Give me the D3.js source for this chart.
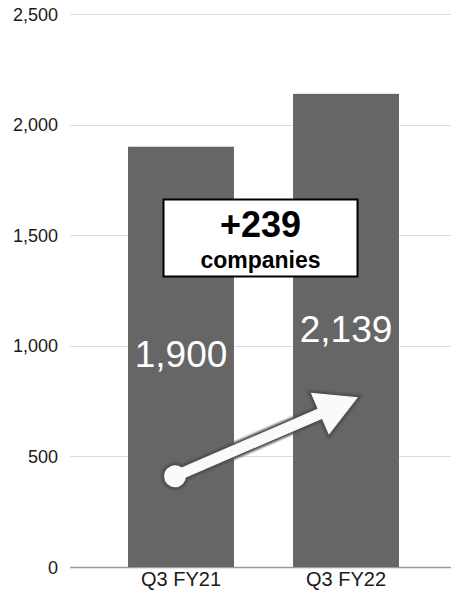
<!DOCTYPE html>
<html>
<head>
<meta charset="utf-8">
<script src="https://cdn.jsdelivr.net/npm/d3@7"></script>
<style>
  html, body { margin: 0; padding: 0; background: #fff; }
  svg { display: block; font-family: "Liberation Sans", Arial, sans-serif; }
</style>
</head>
<body>
<svg id="chart" width="451" height="598"></svg>
<script>
// Companies per quarter
const categories = ["Q3 FY21", "Q3 FY22"];
const values = [1900, 2139];
const yTicks = [0, 500, 1000, 1500, 2000, 2500];
const valueLabels = ["1,900", "2,139"];
const changeLabel = ["+239", "companies"];
// Arrow annotation runs from the first bar to the second (in axis units)
const arrowValues = [410, 765];

const svg = d3.select("#chart");

const gridLeft = 70, gridRight = 451;
const y = d3.scaleLinear().domain([0, 2500]).range([567, 14]);
const x = d3.scaleBand().domain(categories).range([98.5, 428.5])
  .paddingInner(0.358).paddingOuter(0.179);

// Gridlines
svg.append("g").selectAll("line").data(yTicks).join("line")
  .attr("x1", gridLeft).attr("x2", gridRight)
  .attr("y1", d => Math.round(y(d)) + 0.5).attr("y2", d => Math.round(y(d)) + 0.5)
  .attr("stroke", d => d === 0 ? "#9a9a9a" : "#dcdcdc")
  .attr("stroke-width", d => d === 0 ? 1.5 : 1);

// Y axis labels
const fmt = d3.format(",");
svg.append("g").selectAll("text").data(yTicks).join("text")
  .attr("x", 58).attr("y", d => y(d) + 6.5)
  .attr("text-anchor", "end")
  .attr("font-size", 18).attr("fill", "#1a1a1a")
  .text(d => fmt(d));

// Bars
svg.append("g").selectAll("rect").data(values).join("rect")
  .attr("x", (d, i) => x(categories[i]))
  .attr("width", x.bandwidth())
  .attr("y", d => y(d))
  .attr("height", d => y(0) - y(d))
  .attr("fill", "#666666");

// X labels
svg.append("g").selectAll("text").data(categories).join("text")
  .attr("x", d => x(d) + x.bandwidth() / 2).attr("y", 586)
  .attr("text-anchor", "middle")
  .attr("font-size", 20).attr("fill", "#1a1a1a")
  .text(d => d);

// Value labels inside bars
const labelDrop = [220, 248];
svg.append("g").selectAll("text").data(values).join("text")
  .attr("x", (d, i) => x(categories[i]) + x.bandwidth() / 2)
  .attr("y", (d, i) => y(d) + labelDrop[i])
  .attr("text-anchor", "middle")
  .attr("font-size", 37).attr("fill", "#fff")
  .text((d, i) => valueLabels[i]);

// Arrow
const defs = svg.append("defs");
const f = defs.append("filter").attr("id", "soft").attr("x", "-20%").attr("y", "-40%")
  .attr("width", "140%").attr("height", "180%");
f.append("feGaussianBlur").attr("stdDeviation", 0.8);

const x0 = x(categories[0]) + x.bandwidth() / 2 - 6;
const y0 = y(arrowValues[0]);
const x1 = x(categories[1]) + x.bandwidth() / 2 + 11;
const y1 = y(arrowValues[1]);
const ang = Math.atan2(y1 - y0, x1 - x0) * 180 / Math.PI;
const len = Math.hypot(x1 - x0, y1 - y0);
const headL = 40, headW = 22, shaftW = 5;
const arrowPath = `M0,${-shaftW} L${len - headL},${-shaftW} L${len - headL},${-headW}
  L${len},0 L${len - headL},${headW} L${len - headL},${shaftW} L0,${shaftW} Z`;
const ag = svg.append("g").attr("transform", `translate(${x0},${y0}) rotate(${ang})`);
// outline layer
ag.append("path").attr("d", arrowPath)
  .attr("fill", "#4d4d4d").attr("stroke", "#4d4d4d").attr("stroke-width", 6)
  .attr("stroke-linejoin", "miter").attr("filter", "url(#soft)");
ag.append("circle").attr("r", 12).attr("fill", "#4d4d4d").attr("stroke", "#4d4d4d")
  .attr("stroke-width", 3).attr("filter", "url(#soft)");
// fill layer
ag.append("path").attr("d", arrowPath).attr("fill", "#fafafa")
  .attr("stroke", "#fafafa").attr("stroke-width", 1);
ag.append("circle").attr("r", 11).attr("fill", "#fafafa");

// Change callout box
const bx = 163.5, bw = 194, byTop = 199.5, bh = 77;
svg.append("rect").attr("x", bx).attr("y", byTop).attr("width", bw).attr("height", bh)
  .attr("fill", "#fff").attr("stroke", "#000").attr("stroke-width", 2);
svg.append("text").attr("x", bx + bw / 2).attr("y", byTop + 37.5)
  .attr("text-anchor", "middle").attr("font-size", 36).attr("font-weight", "bold")
  .attr("fill", "#000").text(changeLabel[0]);
svg.append("text").attr("x", bx + bw / 2).attr("y", byTop + 68.5)
  .attr("text-anchor", "middle").attr("font-size", 23).attr("font-weight", "bold")
  .attr("fill", "#000").text(changeLabel[1]);
</script>
</body>
</html>
